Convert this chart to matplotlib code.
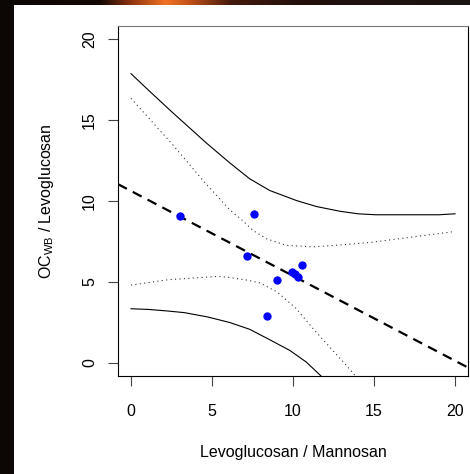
import numpy as np
import matplotlib.pyplot as plt
from matplotlib.patches import Rectangle

plt.rcParams['font.family'] = ['Liberation Sans', 'DejaVu Sans']
plt.rcParams['mathtext.default'] = 'regular'

# observed points
lm_ratio = [3.02, 7.60, 7.19, 9.04, 8.42, 9.96, 10.12, 10.28, 10.58]
oc_levo = [9.06, 9.19, 6.58, 5.10, 2.90, 5.61, 5.48, 5.32, 6.04]

# fitted line
intercept = 10.62
slope = -0.524

# confidence band (dotted)
conf_hi_x = [0, 2.59, 4.45, 6.1, 6.82, 7.54, 8.36, 9.59, 11.24, 12.88, 14.93, 16.99, 20]
conf_hi_y = [16.34, 13.46, 11.26, 9.45, 8.85, 8.18, 7.67, 7.26, 7.17, 7.28, 7.46, 7.73, 8.12]
conf_lo_x = [0, 2.28, 5.36, 6.1, 7.13, 7.95, 9.0, 10.21, 11.24, 12.26, 13.39, 13.9]
conf_lo_y = [4.81, 5.14, 5.35, 5.28, 5.12, 4.95, 4.40, 3.35, 2.12, 0.99, -0.25, -0.85]

# prediction band (solid)
pred_hi_x = [0, 1.25, 2.5, 3.3, 4.63, 6.1, 7.33, 8.56, 10.21, 11.44, 12.88, 14.0, 15.1, 19.0, 20]
pred_hi_y = [17.86, 16.68, 15.52, 14.8, 13.6, 12.35, 11.37, 10.65, 10.03, 9.66, 9.37, 9.21, 9.15, 9.15, 9.21]
pred_lo_x = [0, 1.05, 2.28, 3.3, 4.75, 6.1, 7.33, 8.56, 9.8, 10.82, 11.75]
pred_lo_y = [3.35, 3.31, 3.21, 3.11, 2.84, 2.50, 2.08, 1.44, 0.78, 0.06, -0.82]

W, H = 470, 474
fig = plt.figure(figsize=(W / 100, H / 100), dpi=100, facecolor='#0c0604')
fig.patches.append(Rectangle((14 / W, 0), 1 - 14 / W, (H - 5) / H,
                             transform=fig.transFigure, facecolor='white',
                             edgecolor='none', zorder=-10))

# orange glow in the top strip
glow = fig.add_axes([0, 1 - 5 / H, 1, 5 / H])
px = np.arange(W)
stops_x = [0, 100, 130, 165, 190, 230, 300, 470]
stops_c = np.array([[12, 6, 4], [20, 8, 4], [140, 50, 15], [240, 115, 35],
                    [190, 80, 25], [70, 25, 12], [35, 15, 12], [25, 20, 18]]) / 255
grad = np.stack([np.interp(px, stops_x, stops_c[:, k]) for k in range(3)], axis=-1)
glow.imshow(grad[None, :, :], aspect='auto')
glow.axis('off')

ax = fig.add_axes([118 / W, 1 - 376 / H, 350 / W, 350 / H])
ax.set_facecolor('white')
ax.set_xlim(-0.8, 20.8)
ax.set_ylim(-0.8, 20.8)

ax.plot(pred_hi_x, pred_hi_y, color='black', lw=0.8)
ax.plot(pred_lo_x, pred_lo_y, color='black', lw=0.8)
ax.plot(conf_hi_x, conf_hi_y, color='#333333', lw=0.8, dashes=(1, 3))
ax.plot(conf_lo_x, conf_lo_y, color='#333333', lw=0.8, dashes=(1, 3))
ax.axline((0, intercept), slope=slope, color='black', lw=1.6, dashes=(4.5, 3))
ax.plot(lm_ratio, oc_levo, 'o', color='#0000ff', markersize=6, markeredgewidth=0)

ax.set_xticks([0, 5, 10, 15, 20])
ax.set_yticks([0, 5, 10, 15, 20])
ax.tick_params(axis='x', length=7, width=0.8, color='#444444', pad=13.5, labelsize=11.5)
ax.tick_params(axis='y', length=7, width=0.8, color='#444444', pad=8, labelsize=11.5,
               labelrotation=90)
for lab in ax.get_yticklabels():
    lab.set_va('center')
for s in ax.spines.values():
    s.set_linewidth(0.8)
    s.set_color('black')
ax.spines['top'].set_color('#777777')

ax.set_xlabel('Levoglucosan / Mannosan', fontsize=11.5)
ax.set_ylabel('OC$_{WB}$ / Levoglucosan', fontsize=11.5)
ax.xaxis.set_label_coords(0.5, -(445 - 376) / 350)
ax.yaxis.set_label_coords((56 - 118) / 350, 0.5)
ax.xaxis.label.set_va('top')

fig.savefig('out.png', dpi=100, facecolor=fig.get_facecolor())
